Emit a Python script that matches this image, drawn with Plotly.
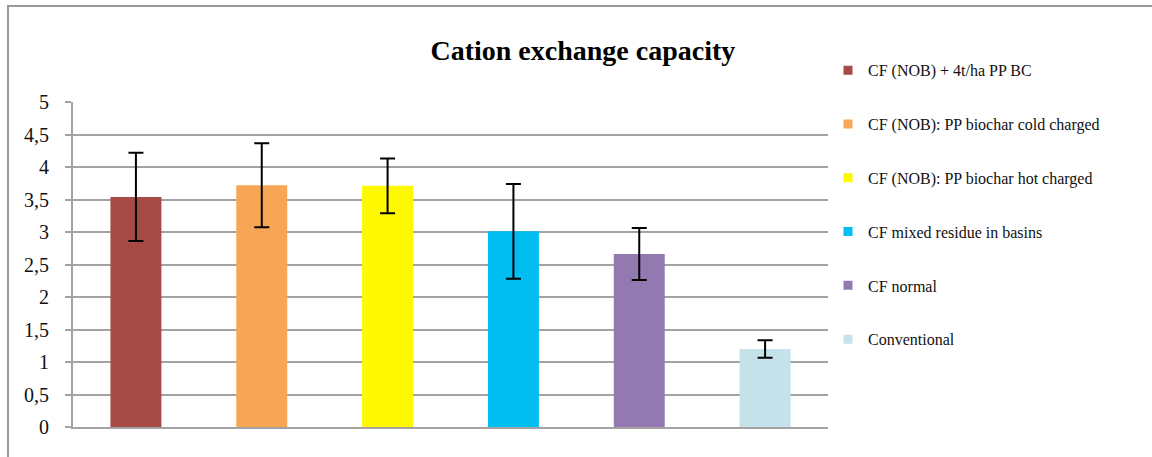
import plotly.graph_objects as go

categories = [
    "CF (NOB) + 4t/ha PP BC",
    "CF (NOB): PP biochar cold charged",
    "CF (NOB): PP biochar hot charged",
    "CF mixed residue in basins",
    "CF normal",
    "Conventional",
]
values = [3.54, 3.72, 3.71, 3.01, 2.66, 1.20]
errors = [0.68, 0.645, 0.42, 0.73, 0.40, 0.135]
colors = ["#A54A44", "#F7A656", "#FFF900", "#00BDF2", "#9279B0", "#C3E2EA"]
tick_vals = [0, 0.5, 1, 1.5, 2, 2.5, 3, 3.5, 4, 4.5, 5]
tick_text = ["0", "0,5", "1", "1,5", "2", "2,5", "3", "3,5", "4", "4,5", "5"]

FONT = "Liberation Serif"
GRID = "#a3a3a3"

fig = go.Figure()
fig.add_trace(go.Bar(
    x=categories, y=values, width=0.405,
    marker=dict(color=colors, line=dict(width=0)),
    error_y=dict(type="data", array=errors, visible=True,
                 color="#000000", thickness=2, width=7.5),
    showlegend=False, hoverinfo="x+y",
))
for i, (name, col) in enumerate(zip(categories, colors)):
    fig.add_trace(go.Scatter(
        x=[None], y=[None], mode="markers", name=name,
        marker=dict(symbol="square", size=9, color=col),
        legendgroup="g%d" % i, showlegend=True,
    ))

fig.update_layout(
    width=1152, height=457,
    margin=dict(l=73, r=324, t=102, b=30),
    paper_bgcolor="white", plot_bgcolor="white",
    font=dict(family=FONT, color="#111111"),
    separators=", ",
    title=dict(text="<b>Cation exchange capacity</b>", x=0.506, xref="container",
               xanchor="center", y=1 - 50 / 457, yref="container", yanchor="middle",
               font=dict(family=FONT, size=28, color="#000000")),
    barmode="overlay",
    xaxis=dict(showticklabels=False, ticks="", showgrid=False,
               showline=True, linecolor=GRID, linewidth=2, zeroline=False,
               range=[-0.5, 5.5], fixedrange=True),
    yaxis=dict(range=[0, 5], tickvals=tick_vals, ticktext=tick_text,
               showgrid=True, gridcolor=GRID, gridwidth=2,
               showline=True, linecolor=GRID, linewidth=2,
               ticks="outside", ticklen=6, tickcolor=GRID, tickwidth=2,
               ticklabelstandoff=12,
               zeroline=False, tickfont=dict(family=FONT, size=20, color="#111111")),
    legend=dict(x=1.0, xanchor="left", y=1.15, yanchor="top",
                font=dict(family=FONT, size=16, color="#111111"),
                tracegroupgap=30, bgcolor="rgba(0,0,0,0)", maxheight=420),
    shapes=[dict(type="path", xref="paper", yref="paper",
                 path="M -0.0861,-0.2 L -0.0861,1.2954 L 1.6,1.2954",
                 line=dict(color="#9a9a9a", width=2))],
)

fig.write_html("out.html", config={"displayModeBar": False},
               post_script="document.body.style.margin='0';")
